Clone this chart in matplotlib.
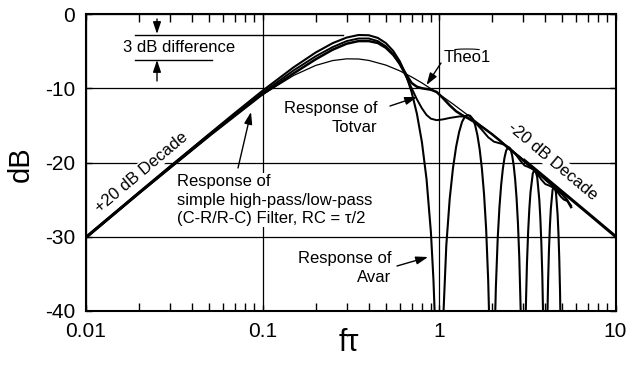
import numpy as np
import matplotlib
matplotlib.use('Agg')
import matplotlib.pyplot as plt
from matplotlib.ticker import LogLocator, NullFormatter
from matplotlib.patches import Arc
from matplotlib.lines import Line2D
from matplotlib.transforms import IdentityTransform

plt.rcParams['font.family'] = ['Liberation Sans', 'DejaVu Sans']
plt.rcParams['axes.unicode_minus'] = False

# response curves, f*tau vs dB
rc_f = [0.01, 0.02, 0.03, 0.05, 0.07, 0.1, 0.15, 0.2, 0.25, 0.3, 0.35, 0.4,
        0.5, 0.6, 0.7, 0.8, 1.0, 1.2, 1.5, 2.0, 3.0, 4.0, 5.0, 7.0, 10.0]
rc_db = [-30.07, -24.07, -20.59, -16.29, -13.57, -10.87, -8.28, -6.93, -6.27,
         -6.04, -6.06, -6.25, -6.88, -7.66, -8.48, -9.28, -10.78, -12.12,
         -13.85, -16.18, -19.58, -22.04, -23.96, -26.86, -29.95]

avar_f = [0.01, 0.02, 0.03, 0.05, 0.07, 0.1, 0.15, 0.2, 0.25, 0.3, 0.35, 0.4,
          0.45, 0.5, 0.55, 0.6, 0.65, 0.7, 0.75, 0.8, 0.85, 0.9, 0.93, 0.95,
          1.05, 1.1, 1.15, 1.2, 1.25, 1.3, 1.35, 1.4, 1.45, 1.5, 1.55, 1.6,
          1.65, 1.7, 1.75, 1.8, 1.85, 1.9, 1.93,
          2.07, 2.1, 2.15, 2.2, 2.25, 2.3, 2.35, 2.4, 2.45, 2.5, 2.55, 2.6,
          2.65, 2.7, 2.75, 2.8, 2.85, 2.9, 2.92,
          3.08, 3.1, 3.15, 3.2, 3.25, 3.3, 3.4, 3.5, 3.6, 3.7, 3.75, 3.8,
          3.85, 3.9,
          4.1, 4.15, 4.2, 4.25, 4.3, 4.4, 4.5, 4.6, 4.7, 4.75, 4.8, 4.85, 4.9]
avar_db = [-30.06, -24.05, -20.54, -16.15, -13.30, -10.34, -7.18, -5.19, -3.92,
           -3.17, -2.83, -2.86, -3.22, -3.92, -4.97, -6.38, -8.21, -10.53,
           -13.47, -17.24, -22.25, -29.43, -35.76, -41.7,
           -42.6, -31.17, -24.88, -20.76, -17.90, -15.90, -14.55, -13.84,
           -13.6, -13.7, -14.1, -14.90, -16.30, -18.23, -20.83, -24.28,
           -29.0, -35.92, -42.1,
           -42.7, -36.79, -30.31, -26.02, -23.01, -20.86, -19.37, -18.42,
           -18.04, -18.0, -18.29, -19.11, -20.41, -22.25, -24.75, -28.12,
           -32.76, -39.59, -43.4,
           -43.9, -40.17, -33.63, -29.28, -26.20, -23.99, -21.45, -20.92,
           -21.94, -24.99, -27.44, -30.77, -35.37, -42.17,
           -42.6, -36.02, -31.64, -28.53, -26.29, -23.68, -23.11, -24.07,
           -27.07, -29.50, -32.80, -37.38, -44.1]

totvar_f = [0.01, 0.02, 0.05, 0.1, 0.15, 0.2, 0.25, 0.3, 0.35, 0.4, 0.45, 0.5,
            0.55, 0.6, 0.65, 0.7, 0.75, 0.8, 0.85, 0.9, 0.97, 1.05, 1.15, 1.3,
            1.4, 1.5, 1.6, 1.75, 1.9, 2.05, 2.2, 2.35, 2.5, 2.7, 2.9, 3.05,
            3.2, 3.4, 3.6, 3.8, 4.0, 4.2, 4.45, 4.7, 4.9, 5.1, 5.35, 5.6]
totvar_db = [-30.1, -24.1, -16.3, -10.6, -7.6, -5.7, -4.45, -3.65, -3.3,
             -3.3, -3.65, -4.35, -5.4, -6.8, -8.4, -10.0, -11.5, -12.7, -13.6,
             -14.1, -14.3, -14.2, -14.0, -13.8, -13.8, -14.1, -14.6, -15.6,
             -16.6, -17.2, -17.4, -17.6, -18.0, -18.8, -19.8, -20.4, -20.6,
             -20.9, -21.5, -22.3, -22.9, -23.1, -23.4, -24.0, -24.6, -25.0,
             -25.2, -25.8]

theo1_f = [0.01, 0.02, 0.05, 0.1, 0.15, 0.2, 0.25, 0.3, 0.35, 0.4, 0.45, 0.5,
           0.55, 0.6, 0.65, 0.7, 0.75, 0.8, 0.9, 0.97, 1.05, 1.15, 1.25, 1.35,
           1.45, 1.6, 1.8, 2.0, 2.2, 2.45, 2.7, 2.9, 3.1, 3.3, 3.5, 3.8, 4.1,
           4.4, 4.7, 5.0, 5.3, 5.6]
theo1_db = [-30.1, -24.1, -16.4, -10.8, -8.0, -6.1, -4.8, -4.0, -3.65, -3.65,
            -3.9, -4.55, -5.5, -6.7, -8.1, -9.3, -9.8, -10.0, -10.2, -10.5,
            -11.3, -12.3, -13.1, -13.6, -14.0, -14.6, -15.4, -16.2, -17.0,
            -18.0, -18.8, -19.4, -20.0, -20.6, -21.1, -21.8, -22.5, -23.1,
            -23.7, -24.3, -25.0, -26.0]

x_ticks = [0.01, 0.1, 1, 10]
x_tick_labels = ['0.01', '0.1', '1', '10']
y_ticks = [0, -10, -20, -30, -40]

W, H = 626, 368


def px(x, y):
    # position measured on the reference image (origin top left) -> figure pixels
    return (x, H - y)


fig = plt.figure(figsize=(W / 100, H / 100), dpi=100)
ax = fig.add_axes([86 / W, 1 - 311 / H, 529.5 / W, 297 / H])

# curves sit above the white text boxes, which only blank out the grid
ax.plot(avar_f, avar_db, color='black', lw=1.5, zorder=4)
ax.plot(totvar_f, totvar_db, color='black', lw=1.4, zorder=4)
ax.plot(theo1_f, theo1_db, color='black', lw=1.8, zorder=4)
ax.plot(rc_f, rc_db, color='black', lw=0.9, zorder=4)

# the asymptote ends of the RC curve are drawn heavy
rc_f_arr = np.array(rc_f)
rc_db_arr = np.array(rc_db)
low = rc_f_arr <= 0.05
high = rc_f_arr >= 3.0
ax.plot(rc_f_arr[low], rc_db_arr[low], color='black', lw=2.2, zorder=4,
        solid_capstyle='butt')
ax.plot(rc_f_arr[high], rc_db_arr[high], color='black', lw=2.2, zorder=4,
        solid_capstyle='butt')

ax.set_xscale('log')
ax.set_xlim(0.01, 10)
ax.set_ylim(-40, 0)
ax.set_xticks(x_ticks, x_tick_labels)
ax.set_yticks(y_ticks)
ax.xaxis.set_minor_locator(LogLocator(base=10, subs=np.arange(2, 10)))
ax.xaxis.set_minor_formatter(NullFormatter())
ax.tick_params(which='major', direction='in', length=4, width=1, labelsize=15,
               top=True, right=True, pad=8)
ax.tick_params(which='minor', direction='in', length=6, width=1, top=True)
ax.grid(True, which='major', color='black', lw=0.9)
for s in ax.spines.values():
    s.set_linewidth(1.5)
    s.set_zorder(5)

fig.text(21 / W, 1 - 164 / H, 'dB', rotation=90, fontsize=21, ha='center', va='center')
fig.text(349 / W, 1 - 343 / H, 'f\u03c4', fontsize=22, ha='center', va='center')

box = dict(facecolor='white', edgecolor='none', pad=1)
arrow_kw = dict(arrowstyle='-|>,head_length=0.6,head_width=0.2', color='black',
                lw=1, mutation_scale=12, shrinkA=0, shrinkB=0)


def arrow(tail, tip):
    ax.annotate('', xy=px(*tip), xytext=px(*tail), xycoords='figure pixels',
                textcoords='figure pixels', arrowprops=arrow_kw)


def label(x, y, s, **kw):
    ax.annotate(s, xy=px(x, y), xycoords='figure pixels', fontsize=12, **kw)


# 3 dB difference marker
fig.add_artist(Line2D([135, 343], [H - 34.5, H - 34.5], transform=IdentityTransform(),
                      color='black', lw=1))
fig.add_artist(Line2D([135, 212], [H - 60, H - 60], transform=IdentityTransform(),
                      color='black', lw=1))
arrow((157, 19), (157, 34))
arrow((157, 81), (157, 60))
label(179, 47, '3 dB difference', ha='center', va='center')

# curve labels
label(467, 58, 'Theo1', ha='center', va='center')
fig.add_artist(Arc((467, H - 53), 48, 8, theta1=15, theta2=165,
                   transform=IdentityTransform(), color='black', lw=0.8))
arrow((441, 63), (426.5, 85))

label(377, 118, 'Response of\nTotvar', ha='right', va='center', linespacing=1.25)
arrow((390, 106), (417, 97))

label(177, 200, 'Response of\nsimple high-pass/low-pass\n(C-R/R-C) Filter, RC = \u03c4/2',
      ha='left', va='center', linespacing=1.3, bbox=box)
arrow((238, 168), (251, 112))

label(391, 268, 'Response of\nAvar', ha='right', va='center', linespacing=1.25)
arrow((397, 266), (428, 257))

label(141, 172, '+20 dB Decade', ha='center', va='center', rotation=40,
      rotation_mode='anchor', bbox=box)
label(553, 161, '-20 dB Decade', ha='center', va='center', rotation=-40,
      rotation_mode='anchor', bbox=box)

fig.savefig('out.png', dpi=100)
